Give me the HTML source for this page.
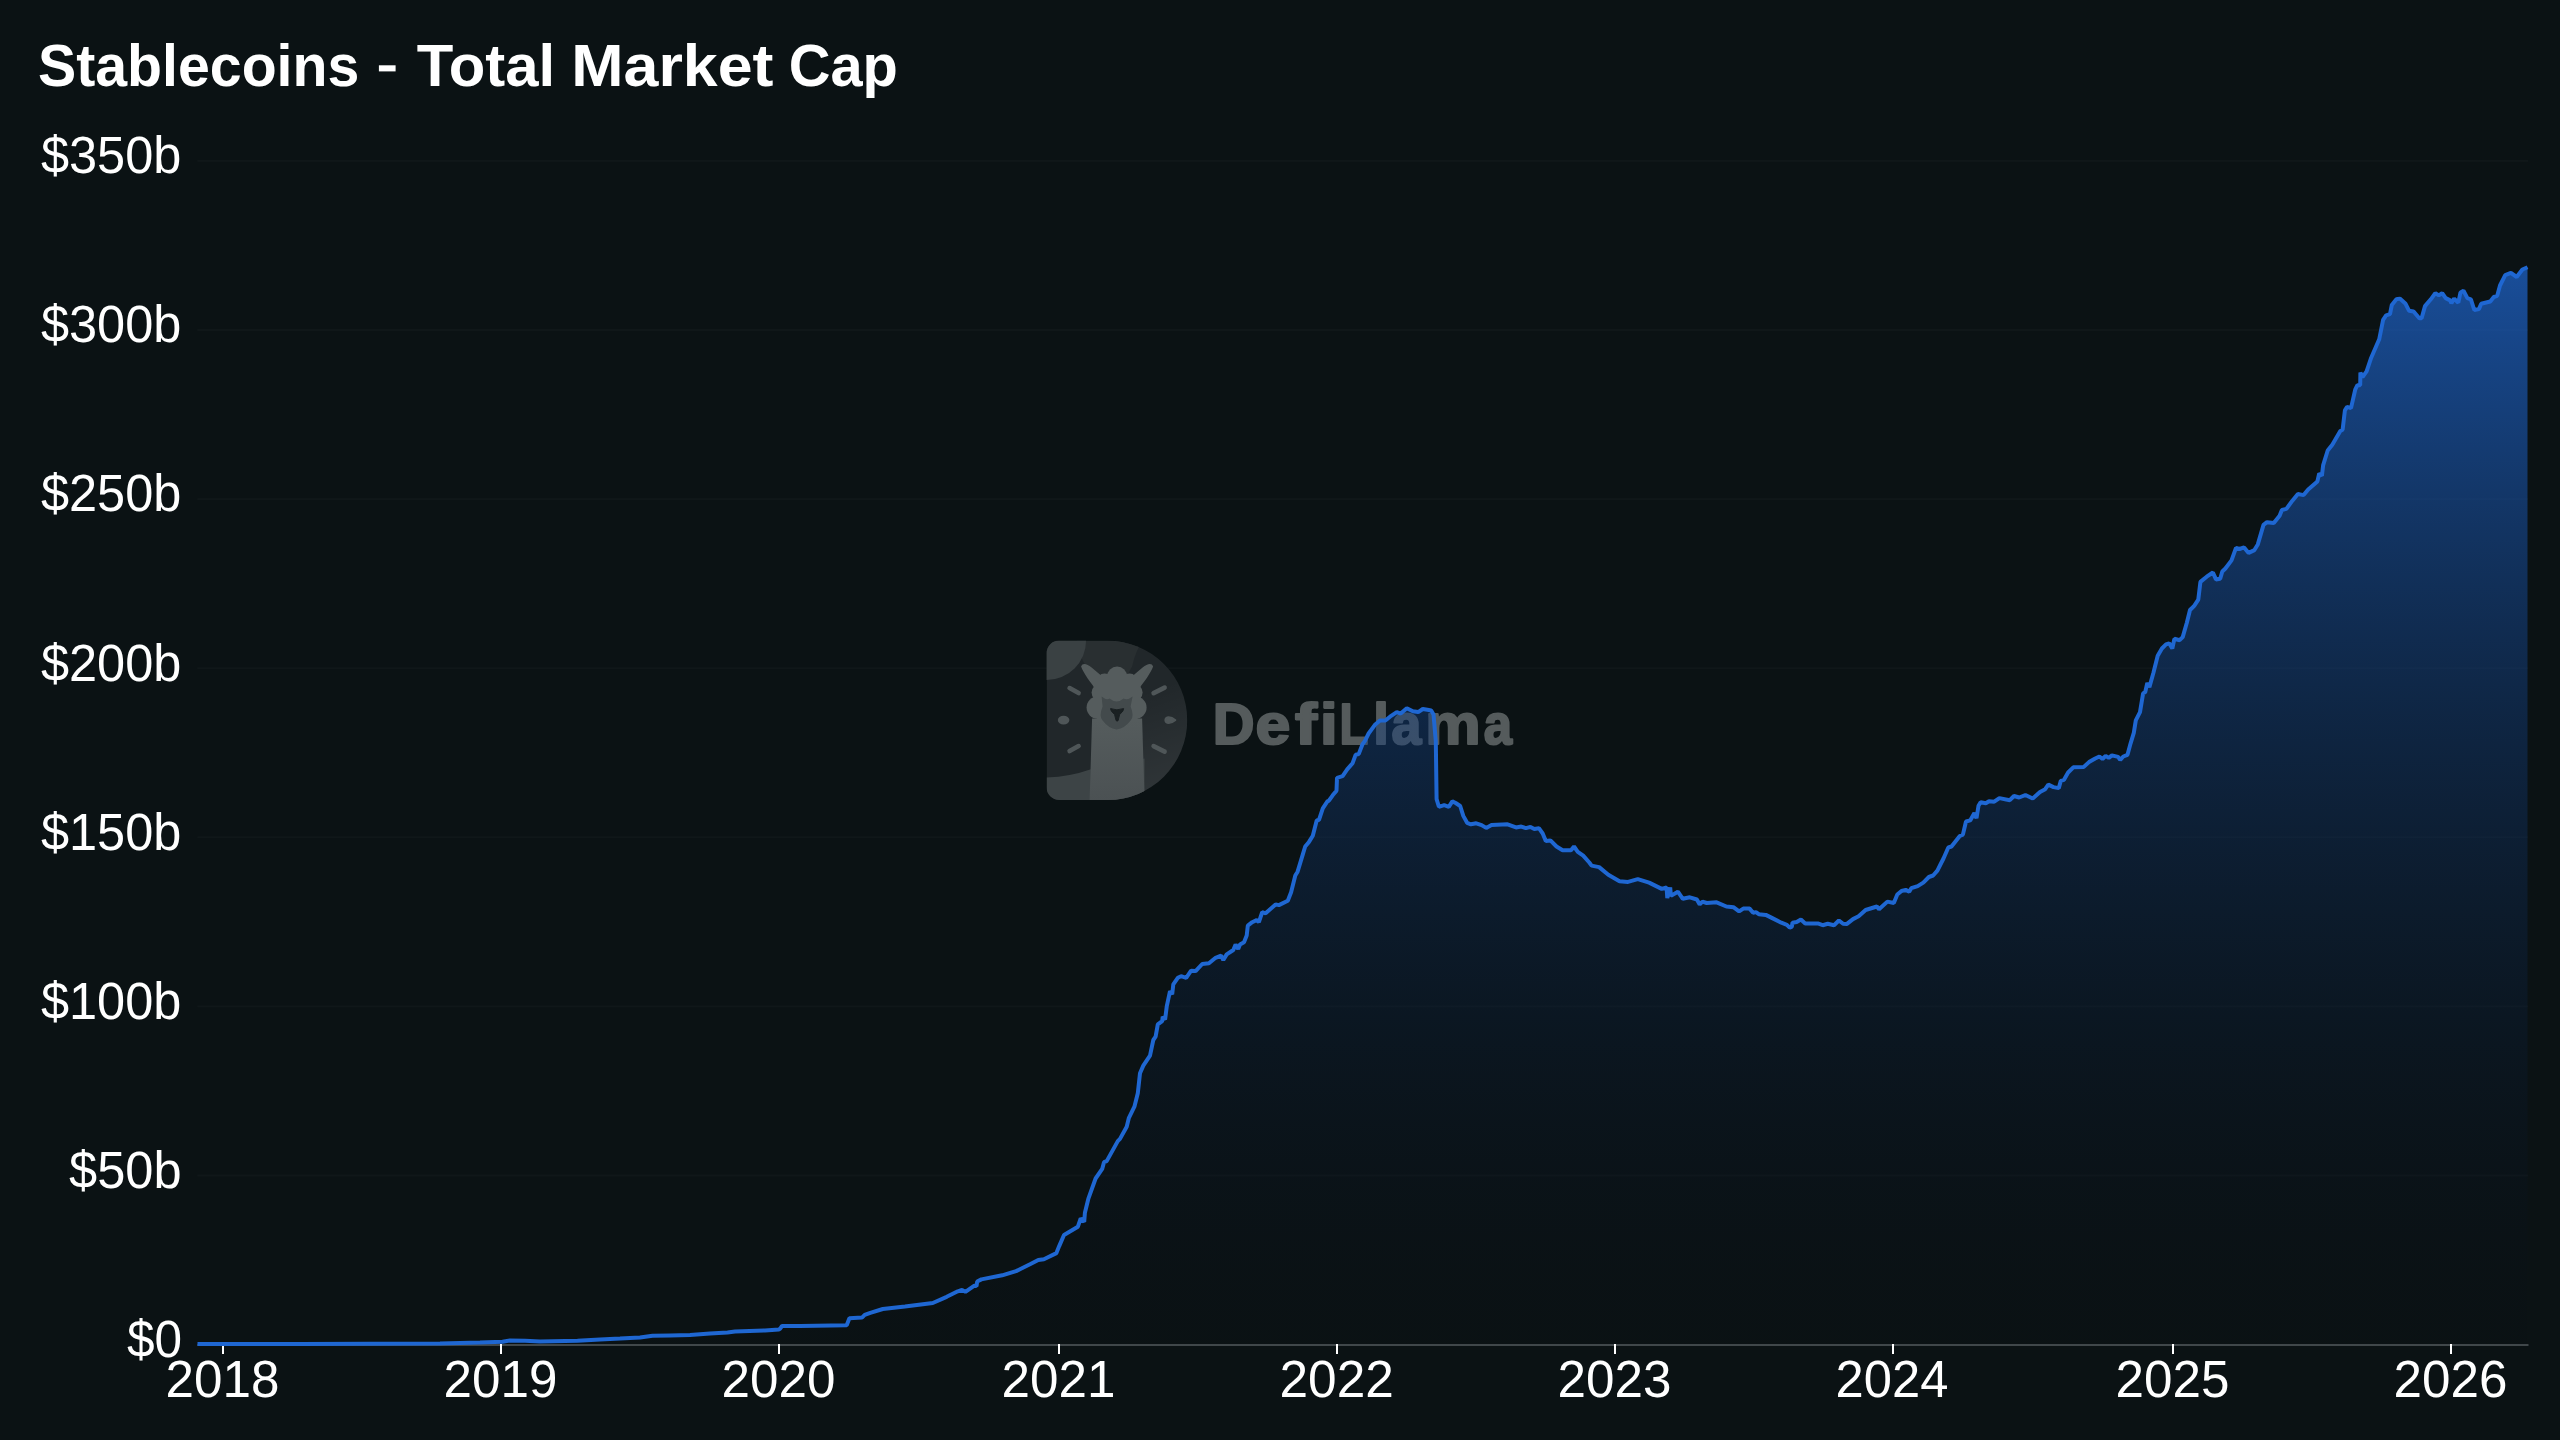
<!DOCTYPE html>
<html><head><meta charset="utf-8"><title>Stablecoins - Total Market Cap</title>
<style>
html,body{margin:0;padding:0;background:#0b1214;width:2560px;height:1440px;overflow:hidden}
svg{display:block;position:absolute;left:0;top:0}
text{font-family:"Liberation Sans",sans-serif}
</style></head>
<body>
<svg width="2560" height="1440" viewBox="0 0 2560 1440">
<defs>
<linearGradient id="ag" gradientUnits="userSpaceOnUse" x1="0" y1="267" x2="0" y2="1440">
<stop offset="0" stop-color="#1f67d2" stop-opacity="1"/>
<stop offset="1" stop-color="#000000" stop-opacity="0"/>
</linearGradient>
</defs>
<rect width="2560" height="1440" fill="#0b1214"/>
<!-- grid -->
<rect x="197.3" y="1174.5" width="2331" height="2" fill="#ffffff" fill-opacity="0.022"/>
<rect x="197.3" y="1005.4" width="2331" height="2" fill="#ffffff" fill-opacity="0.022"/>
<rect x="197.3" y="836.3" width="2331" height="2" fill="#ffffff" fill-opacity="0.022"/>
<rect x="197.3" y="667.2" width="2331" height="2" fill="#ffffff" fill-opacity="0.022"/>
<rect x="197.3" y="498.1" width="2331" height="2" fill="#ffffff" fill-opacity="0.022"/>
<rect x="197.3" y="329.0" width="2331" height="2" fill="#ffffff" fill-opacity="0.022"/>
<rect x="197.3" y="159.9" width="2331" height="2" fill="#ffffff" fill-opacity="0.022"/>

<!-- watermark -->
<g id="wm">
<g transform="translate(1046.6,640.6)">
<clipPath id="dclip"><path d="M12.5,0 H61 A79.7,79.7 0 0 1 61,159.4 H12.5 A12.5,12.5 0 0 1 0,146.9 V12.5 A12.5,12.5 0 0 1 12.5,0 Z"/></clipPath>
<linearGradient id="dg" gradientUnits="userSpaceOnUse" x1="0" y1="0" x2="140" y2="160">
<stop offset="0" stop-color="#262c2e"/><stop offset="1" stop-color="#23292b"/>
</linearGradient>
<g clip-path="url(#dclip)">
<rect x="0" y="0" width="141" height="160" fill="#21272a"/>
<!-- upper lighter band -->
<path d="M30,0 H96 Q88.5,12 85.6,25.6 L75,46 L50,42 L36,20 Z" fill="#292f31"/>
<!-- top-left light circle -->
<circle cx="0" cy="0" r="39.5" fill="#3a4143"/>
<!-- right-lower lighter wedge -->
<linearGradient id="rg" gradientUnits="userSpaceOnUse" x1="100" y1="50" x2="135" y2="150"><stop offset="0" stop-color="#ffffff" stop-opacity="0"/><stop offset="1" stop-color="#ffffff" stop-opacity="0.07"/></linearGradient>
<rect x="90" y="40" width="52" height="120" fill="url(#rg)"/>
<!-- bottom-left lighter region -->
<path d="M0,137 Q24,136 43.5,129 L43.5,160 L0,160 Z" fill="#3d4446"/>
<path d="M43.5,129 L43.5,160 L98,160 L98,118 Z" fill="#3b4244"/>
<!-- clock ticks -->
<g stroke="#4f5658" stroke-width="4.6" stroke-linecap="round" fill="none">
<line x1="23" y1="47.5" x2="32" y2="52.5"/>
<line x1="118" y1="47" x2="107" y2="52.5"/>
<line x1="23" y1="110.5" x2="32" y2="105.5"/>
<line x1="118" y1="111" x2="107" y2="105.5"/>
</g>
<ellipse cx="17" cy="79.5" rx="5.8" ry="4.4" fill="#4f5658"/>
<path d="M118.5,79.5 C119,75.5 124,75.3 129,79.5 C124,83.7 119,83.7 118.5,79.5 Z" fill="#4f5658" stroke="#4f5658" stroke-width="1.5" stroke-linejoin="round"/>
<!-- llama -->
<linearGradient id="lg" gradientUnits="userSpaceOnUse" x1="0" y1="80" x2="0" y2="160"><stop offset="0" stop-color="#555c5d"/><stop offset="1" stop-color="#4b5153"/></linearGradient>
<g fill="url(#lg)">
<!-- neck -->
<path d="M45.5,78 L43,160 L98,160 L95.5,78 Z"/>
<!-- ears -->
<path d="M34.5,26 C36,22 40,23 45,27 L58,38 L50,50 C44,42 37,33 34.5,26 Z"/>
<path d="M106.5,26 C105,22 101,23 96,27 L83,38 L91,50 C97,42 104,33 106.5,26 Z"/>
<!-- head fluff -->
<circle cx="70.5" cy="36" r="10"/>
<circle cx="58" cy="41" r="8"/>
<circle cx="83" cy="41" r="8"/>
<circle cx="54" cy="52" r="9"/>
<circle cx="87" cy="52" r="9"/>
<circle cx="70.5" cy="48" r="14"/>
<circle cx="51" cy="67" r="11"/>
<circle cx="89" cy="67" r="11"/>
<rect x="50" y="45" width="41" height="40"/>
</g>
<!-- face -->
<path d="M55,56 Q60,60 63,58 Q70,64 77,58 Q81,60 86,56 L84,66 Q88,76 84,80 Q78,88 70,89 Q62,88 56,80 Q52,76 56,66 Z" fill="#434a4c"/>
<!-- nose -->
<path d="M64,68 Q70,70.5 77,68 Q77.5,70 73,74 L71.5,80 Q70.5,81 69.5,80 L68,74 Q63.5,70 64,68 Z" fill="#1a2022" stroke="#1a2022" stroke-width="1" stroke-linejoin="round"/>
</g>
</g>
<g font-size="57.5" font-weight="bold" fill="#555b5c" stroke="#555b5c" stroke-width="2.2" stroke-linejoin="round">
<text transform="translate(1212.66,744.4) scale(1.0060,1)">D</text>
<text transform="translate(1255.59,744.4) scale(1.0906,1)">e</text>
<text transform="translate(1294.94,744.4) scale(1.1529,1)">f</text>
<text transform="translate(1319.88,744.4) scale(1.1024,1)">i</text>
<text transform="translate(1339.59,744.4) scale(0.8247,1)">L</text>
<text transform="translate(1373.35,744.4) scale(0.9756,1)">l</text>
<text transform="translate(1391.52,744.4) scale(0.9334,1)">a</text>
<text transform="translate(1425.33,744.4) scale(1.0828,1)">m</text>
<text transform="translate(1483.65,744.4) scale(0.8845,1)">a</text>
</g>
</g>

<!-- area -->
<path d="M197.5,1344.0 L300.0,1344.0 L440.0,1343.5 L480.0,1342.6 L502.5,1341.8 L510.0,1340.5 L525.0,1340.8 L540.0,1341.5 L577.5,1340.8 L600.0,1339.5 L620.0,1338.6 L640.0,1337.5 L652.5,1335.8 L670.0,1335.4 L690.0,1335.0 L710.0,1333.6 L727.5,1332.5 L735.0,1331.6 L765.0,1330.5 L778.8,1329.5 L780.0,1328.8 L782.0,1326.0 L800.0,1326.0 L846.7,1325.3 L849.4,1318.3 L862.0,1317.6 L864.7,1314.9 L870.3,1312.8 L882.8,1309.0 L905.0,1306.5 L932.8,1303.0 L946.7,1296.8 L957.8,1291.3 L962.0,1289.9 L965.4,1291.9 L974.4,1285.7 L976.5,1286.1 L977.2,1281.5 L981.4,1279.4 L1002.2,1275.3 L1016.1,1271.1 L1030.0,1264.2 L1038.3,1260.0 L1043.9,1259.3 L1056.4,1253.1 L1059.2,1246.1 L1064.0,1235.0 L1077.9,1226.7 L1080.7,1218.3 L1084.2,1221.8 L1084.9,1212.8 L1088.3,1198.9 L1095.6,1178.5 L1102.2,1168.9 L1104.0,1162.2 L1106.7,1161.1 L1117.8,1141.1 L1120.0,1138.9 L1126.7,1126.7 L1128.9,1117.8 L1134.4,1106.7 L1137.8,1093.3 L1140.0,1073.3 L1143.3,1065.6 L1150.0,1055.6 L1153.3,1040.0 L1155.6,1036.7 L1157.8,1024.4 L1162.2,1021.1 L1162.7,1016.7 L1165.1,1019.6 L1166.7,1006.7 L1170.0,991.1 L1172.2,994.4 L1173.3,984.4 L1177.8,977.8 L1181.1,976.2 L1186.2,977.8 L1191.1,970.7 L1195.6,971.1 L1202.2,964.0 L1208.9,963.3 L1215.6,957.8 L1221.1,955.6 L1223.3,960.0 L1226.7,954.4 L1233.3,950.0 L1235.6,944.4 L1238.2,948.9 L1240.0,944.4 L1244.0,942.2 L1246.7,935.6 L1247.8,925.6 L1252.2,922.2 L1256.7,920.0 L1258.9,922.2 L1262.2,912.2 L1265.6,913.3 L1275.6,904.4 L1278.9,905.1 L1287.8,900.7 L1291.1,892.3 L1295.3,875.5 L1297.6,871.7 L1302.9,854.1 L1305.2,846.5 L1309.0,841.9 L1312.8,835.8 L1316.7,820.5 L1319.0,819.8 L1322.8,808.3 L1327.4,801.4 L1328.9,800.7 L1332.7,795.3 L1336.5,790.7 L1337.0,777.8 L1342.6,776.2 L1347.2,769.4 L1352.6,763.2 L1355.6,754.8 L1358.7,754.1 L1362.5,744.2 L1364.8,741.1 L1368.6,733.5 L1374.7,725.1 L1380.0,720.5 L1385.4,720.5 L1390.0,716.7 L1396.8,712.1 L1400.7,713.6 L1406.8,708.3 L1412.9,711.3 L1418.2,712.1 L1422.8,709.0 L1427.4,709.8 L1431.2,710.5 L1433.5,714.4 L1435.8,741.1 L1436.6,799.1 L1438.9,806.8 L1444.2,805.2 L1448.8,806.8 L1452.3,801.4 L1455.7,803.0 L1460.2,806.0 L1463.3,815.9 L1467.1,822.8 L1470.9,824.3 L1476.3,823.3 L1481.6,825.1 L1486.2,827.9 L1491.5,825.1 L1507.6,824.3 L1516.0,827.4 L1521.3,826.6 L1525.9,828.2 L1530.5,826.9 L1534.3,828.9 L1538.9,828.2 L1542.7,833.5 L1545.8,841.1 L1550.4,840.4 L1556.5,846.5 L1562.6,850.3 L1571.0,850.3 L1574.0,846.5 L1577.8,851.8 L1583.2,855.7 L1589.3,862.5 L1591.6,865.6 L1599.1,867.1 L1608.3,874.8 L1619.5,881.2 L1628.0,881.9 L1637.8,879.1 L1649.1,882.6 L1661.7,888.9 L1666.6,887.5 L1667.3,898.0 L1670.2,887.5 L1670.9,895.9 L1677.9,891.7 L1682.8,898.8 L1689.8,897.3 L1696.9,899.5 L1699.7,904.4 L1702.5,901.6 L1706.7,903.0 L1716.6,902.3 L1726.4,906.5 L1733.4,907.2 L1739.1,911.4 L1743.3,908.6 L1749.6,908.6 L1753.1,912.8 L1755.9,912.1 L1758.8,914.2 L1765.8,914.9 L1772.8,918.4 L1781.3,922.7 L1786.9,924.8 L1789.7,927.6 L1791.8,926.9 L1792.5,922.7 L1796.7,922.0 L1800.9,919.6 L1805.2,923.4 L1817.8,923.4 L1822.7,925.2 L1827.7,923.8 L1834.0,925.2 L1838.9,920.5 L1843.1,923.8 L1846.6,924.1 L1853.0,919.1 L1858.6,916.3 L1865.6,910.0 L1876.9,906.5 L1879.0,909.3 L1887.4,901.6 L1893.8,903.0 L1897.3,894.5 L1901.5,891.0 L1905.7,889.9 L1909.2,891.7 L1911.3,888.2 L1917.7,886.1 L1923.3,882.6 L1928.9,877.0 L1933.1,875.5 L1937.4,870.6 L1940.2,865.0 L1943.5,858.5 L1948.3,847.5 L1951.5,846.5 L1959.8,836.0 L1962.9,834.6 L1966.0,821.5 L1970.2,820.4 L1974.4,813.1 L1976.5,818.3 L1978.5,805.8 L1980.6,802.3 L1985.8,803.3 L1989.0,801.3 L1994.2,801.7 L1999.4,798.1 L2009.8,800.2 L2014.0,796.0 L2019.2,797.5 L2025.4,795.0 L2032.7,798.5 L2040.0,791.9 L2045.2,789.2 L2048.3,784.6 L2053.5,787.1 L2058.8,788.1 L2060.8,780.8 L2064.0,779.8 L2068.1,772.5 L2073.3,767.3 L2083.8,766.9 L2089.0,762.1 L2095.2,758.5 L2099.4,756.5 L2102.5,759.0 L2105.6,755.8 L2108.8,757.9 L2111.9,755.4 L2118.1,756.9 L2120.2,760.0 L2123.3,756.5 L2127.5,754.8 L2130.6,743.3 L2133.8,732.9 L2135.8,720.4 L2140.0,712.1 L2143.1,693.3 L2145.2,692.3 L2147.3,682.9 L2149.4,687.1 L2153.5,672.5 L2157.7,655.8 L2161.9,648.5 L2166.0,644.4 L2169.2,643.3 L2172.3,648.5 L2174.4,638.8 L2179.6,640.2 L2182.7,637.1 L2186.9,622.5 L2190.0,610.0 L2194.2,605.8 L2198.3,599.6 L2200.4,581.9 L2206.7,576.7 L2212.9,572.5 L2216.0,579.4 L2220.2,578.8 L2222.3,571.5 L2225.4,568.5 L2231.5,560.4 L2236.0,547.8 L2239.5,549.0 L2244.1,547.4 L2248.6,552.9 L2254.4,550.1 L2257.8,544.4 L2263.5,524.9 L2267.0,522.2 L2273.8,523.1 L2279.6,515.8 L2281.9,510.0 L2286.4,508.9 L2292.2,500.9 L2297.9,494.0 L2303.6,495.1 L2308.2,489.4 L2317.4,481.4 L2319.2,473.4 L2321.9,475.7 L2323.1,465.4 L2327.7,450.5 L2332.3,444.7 L2340.3,431.0 L2342.6,429.8 L2344.9,410.4 L2347.1,406.9 L2351.0,408.1 L2355.2,389.7 L2357.4,385.2 L2360.2,385.2 L2360.4,372.6 L2362.5,377.1 L2366.6,371.4 L2371.2,357.7 L2379.2,339.3 L2383.1,319.9 L2386.1,315.3 L2390.0,314.1 L2391.8,305.0 L2396.4,299.3 L2399.8,298.6 L2405.6,303.8 L2409.0,310.7 L2413.6,311.4 L2419.3,318.3 L2421.6,318.3 L2425.0,306.1 L2430.8,299.3 L2435.3,293.1 L2438.8,295.4 L2442.2,293.1 L2445.7,298.1 L2450.2,300.4 L2451.4,303.2 L2454.1,298.6 L2458.3,302.7 L2460.5,292.4 L2463.5,290.8 L2467.4,298.1 L2470.9,299.3 L2474.3,310.0 L2478.9,309.1 L2481.2,303.8 L2490.3,301.5 L2493.8,297.0 L2497.2,295.8 L2500.0,285.5 L2505.2,275.2 L2510.9,272.9 L2516.7,277.0 L2522.4,269.5 L2527.5,267.2 L2527.5,1344.6 L197.5,1344.6 Z" fill="url(#ag)" fill-opacity="0.7"/>
<!-- x axis -->
<rect x="197.3" y="1344" width="2331.2" height="2" fill="#40474a"/>
<rect x="222" y="1344" width="2" height="10" fill="#ffffff"/>
<rect x="500" y="1344" width="2" height="10" fill="#ffffff"/>
<rect x="778" y="1344" width="2" height="10" fill="#ffffff"/>
<rect x="1058" y="1344" width="2" height="10" fill="#ffffff"/>
<rect x="1336" y="1344" width="2" height="10" fill="#ffffff"/>
<rect x="1614" y="1344" width="2" height="10" fill="#ffffff"/>
<rect x="1892" y="1344" width="2" height="10" fill="#ffffff"/>
<rect x="2172" y="1344" width="2" height="10" fill="#ffffff"/>
<rect x="2450" y="1344" width="2" height="10" fill="#ffffff"/>

<path d="M197.5,1344.0 L300.0,1344.0 L440.0,1343.5 L480.0,1342.6 L502.5,1341.8 L510.0,1340.5 L525.0,1340.8 L540.0,1341.5 L577.5,1340.8 L600.0,1339.5 L620.0,1338.6 L640.0,1337.5 L652.5,1335.8 L670.0,1335.4 L690.0,1335.0 L710.0,1333.6 L727.5,1332.5 L735.0,1331.6 L765.0,1330.5 L778.8,1329.5 L780.0,1328.8 L782.0,1326.0 L800.0,1326.0 L846.7,1325.3 L849.4,1318.3 L862.0,1317.6 L864.7,1314.9 L870.3,1312.8 L882.8,1309.0 L905.0,1306.5 L932.8,1303.0 L946.7,1296.8 L957.8,1291.3 L962.0,1289.9 L965.4,1291.9 L974.4,1285.7 L976.5,1286.1 L977.2,1281.5 L981.4,1279.4 L1002.2,1275.3 L1016.1,1271.1 L1030.0,1264.2 L1038.3,1260.0 L1043.9,1259.3 L1056.4,1253.1 L1059.2,1246.1 L1064.0,1235.0 L1077.9,1226.7 L1080.7,1218.3 L1084.2,1221.8 L1084.9,1212.8 L1088.3,1198.9 L1095.6,1178.5 L1102.2,1168.9 L1104.0,1162.2 L1106.7,1161.1 L1117.8,1141.1 L1120.0,1138.9 L1126.7,1126.7 L1128.9,1117.8 L1134.4,1106.7 L1137.8,1093.3 L1140.0,1073.3 L1143.3,1065.6 L1150.0,1055.6 L1153.3,1040.0 L1155.6,1036.7 L1157.8,1024.4 L1162.2,1021.1 L1162.7,1016.7 L1165.1,1019.6 L1166.7,1006.7 L1170.0,991.1 L1172.2,994.4 L1173.3,984.4 L1177.8,977.8 L1181.1,976.2 L1186.2,977.8 L1191.1,970.7 L1195.6,971.1 L1202.2,964.0 L1208.9,963.3 L1215.6,957.8 L1221.1,955.6 L1223.3,960.0 L1226.7,954.4 L1233.3,950.0 L1235.6,944.4 L1238.2,948.9 L1240.0,944.4 L1244.0,942.2 L1246.7,935.6 L1247.8,925.6 L1252.2,922.2 L1256.7,920.0 L1258.9,922.2 L1262.2,912.2 L1265.6,913.3 L1275.6,904.4 L1278.9,905.1 L1287.8,900.7 L1291.1,892.3 L1295.3,875.5 L1297.6,871.7 L1302.9,854.1 L1305.2,846.5 L1309.0,841.9 L1312.8,835.8 L1316.7,820.5 L1319.0,819.8 L1322.8,808.3 L1327.4,801.4 L1328.9,800.7 L1332.7,795.3 L1336.5,790.7 L1337.0,777.8 L1342.6,776.2 L1347.2,769.4 L1352.6,763.2 L1355.6,754.8 L1358.7,754.1 L1362.5,744.2 L1364.8,741.1 L1368.6,733.5 L1374.7,725.1 L1380.0,720.5 L1385.4,720.5 L1390.0,716.7 L1396.8,712.1 L1400.7,713.6 L1406.8,708.3 L1412.9,711.3 L1418.2,712.1 L1422.8,709.0 L1427.4,709.8 L1431.2,710.5 L1433.5,714.4 L1435.8,741.1 L1436.6,799.1 L1438.9,806.8 L1444.2,805.2 L1448.8,806.8 L1452.3,801.4 L1455.7,803.0 L1460.2,806.0 L1463.3,815.9 L1467.1,822.8 L1470.9,824.3 L1476.3,823.3 L1481.6,825.1 L1486.2,827.9 L1491.5,825.1 L1507.6,824.3 L1516.0,827.4 L1521.3,826.6 L1525.9,828.2 L1530.5,826.9 L1534.3,828.9 L1538.9,828.2 L1542.7,833.5 L1545.8,841.1 L1550.4,840.4 L1556.5,846.5 L1562.6,850.3 L1571.0,850.3 L1574.0,846.5 L1577.8,851.8 L1583.2,855.7 L1589.3,862.5 L1591.6,865.6 L1599.1,867.1 L1608.3,874.8 L1619.5,881.2 L1628.0,881.9 L1637.8,879.1 L1649.1,882.6 L1661.7,888.9 L1666.6,887.5 L1667.3,898.0 L1670.2,887.5 L1670.9,895.9 L1677.9,891.7 L1682.8,898.8 L1689.8,897.3 L1696.9,899.5 L1699.7,904.4 L1702.5,901.6 L1706.7,903.0 L1716.6,902.3 L1726.4,906.5 L1733.4,907.2 L1739.1,911.4 L1743.3,908.6 L1749.6,908.6 L1753.1,912.8 L1755.9,912.1 L1758.8,914.2 L1765.8,914.9 L1772.8,918.4 L1781.3,922.7 L1786.9,924.8 L1789.7,927.6 L1791.8,926.9 L1792.5,922.7 L1796.7,922.0 L1800.9,919.6 L1805.2,923.4 L1817.8,923.4 L1822.7,925.2 L1827.7,923.8 L1834.0,925.2 L1838.9,920.5 L1843.1,923.8 L1846.6,924.1 L1853.0,919.1 L1858.6,916.3 L1865.6,910.0 L1876.9,906.5 L1879.0,909.3 L1887.4,901.6 L1893.8,903.0 L1897.3,894.5 L1901.5,891.0 L1905.7,889.9 L1909.2,891.7 L1911.3,888.2 L1917.7,886.1 L1923.3,882.6 L1928.9,877.0 L1933.1,875.5 L1937.4,870.6 L1940.2,865.0 L1943.5,858.5 L1948.3,847.5 L1951.5,846.5 L1959.8,836.0 L1962.9,834.6 L1966.0,821.5 L1970.2,820.4 L1974.4,813.1 L1976.5,818.3 L1978.5,805.8 L1980.6,802.3 L1985.8,803.3 L1989.0,801.3 L1994.2,801.7 L1999.4,798.1 L2009.8,800.2 L2014.0,796.0 L2019.2,797.5 L2025.4,795.0 L2032.7,798.5 L2040.0,791.9 L2045.2,789.2 L2048.3,784.6 L2053.5,787.1 L2058.8,788.1 L2060.8,780.8 L2064.0,779.8 L2068.1,772.5 L2073.3,767.3 L2083.8,766.9 L2089.0,762.1 L2095.2,758.5 L2099.4,756.5 L2102.5,759.0 L2105.6,755.8 L2108.8,757.9 L2111.9,755.4 L2118.1,756.9 L2120.2,760.0 L2123.3,756.5 L2127.5,754.8 L2130.6,743.3 L2133.8,732.9 L2135.8,720.4 L2140.0,712.1 L2143.1,693.3 L2145.2,692.3 L2147.3,682.9 L2149.4,687.1 L2153.5,672.5 L2157.7,655.8 L2161.9,648.5 L2166.0,644.4 L2169.2,643.3 L2172.3,648.5 L2174.4,638.8 L2179.6,640.2 L2182.7,637.1 L2186.9,622.5 L2190.0,610.0 L2194.2,605.8 L2198.3,599.6 L2200.4,581.9 L2206.7,576.7 L2212.9,572.5 L2216.0,579.4 L2220.2,578.8 L2222.3,571.5 L2225.4,568.5 L2231.5,560.4 L2236.0,547.8 L2239.5,549.0 L2244.1,547.4 L2248.6,552.9 L2254.4,550.1 L2257.8,544.4 L2263.5,524.9 L2267.0,522.2 L2273.8,523.1 L2279.6,515.8 L2281.9,510.0 L2286.4,508.9 L2292.2,500.9 L2297.9,494.0 L2303.6,495.1 L2308.2,489.4 L2317.4,481.4 L2319.2,473.4 L2321.9,475.7 L2323.1,465.4 L2327.7,450.5 L2332.3,444.7 L2340.3,431.0 L2342.6,429.8 L2344.9,410.4 L2347.1,406.9 L2351.0,408.1 L2355.2,389.7 L2357.4,385.2 L2360.2,385.2 L2360.4,372.6 L2362.5,377.1 L2366.6,371.4 L2371.2,357.7 L2379.2,339.3 L2383.1,319.9 L2386.1,315.3 L2390.0,314.1 L2391.8,305.0 L2396.4,299.3 L2399.8,298.6 L2405.6,303.8 L2409.0,310.7 L2413.6,311.4 L2419.3,318.3 L2421.6,318.3 L2425.0,306.1 L2430.8,299.3 L2435.3,293.1 L2438.8,295.4 L2442.2,293.1 L2445.7,298.1 L2450.2,300.4 L2451.4,303.2 L2454.1,298.6 L2458.3,302.7 L2460.5,292.4 L2463.5,290.8 L2467.4,298.1 L2470.9,299.3 L2474.3,310.0 L2478.9,309.1 L2481.2,303.8 L2490.3,301.5 L2493.8,297.0 L2497.2,295.8 L2500.0,285.5 L2505.2,275.2 L2510.9,272.9 L2516.7,277.0 L2522.4,269.5 L2527.5,267.2" fill="none" stroke="#1f67d2" stroke-width="4" stroke-linejoin="bevel" stroke-linecap="butt"/>
<!-- labels -->
<text transform="translate(127.00,1356.90) scale(0.9711,1.0250)" font-size="51" fill="#fff">$0</text>
<text transform="translate(69.09,1187.80) scale(0.9912,1.0250)" font-size="51" fill="#fff">$50b</text>
<text transform="translate(40.89,1018.70) scale(0.9904,1.0250)" font-size="51" fill="#fff">$100b</text>
<text transform="translate(40.89,849.60) scale(0.9904,1.0250)" font-size="51" fill="#fff">$150b</text>
<text transform="translate(40.89,680.50) scale(0.9904,1.0250)" font-size="51" fill="#fff">$200b</text>
<text transform="translate(40.89,511.40) scale(0.9904,1.0250)" font-size="51" fill="#fff">$250b</text>
<text transform="translate(40.89,342.30) scale(0.9904,1.0250)" font-size="51" fill="#fff">$300b</text>
<text transform="translate(40.89,173.20) scale(0.9904,1.0250)" font-size="51" fill="#fff">$350b</text>

<text transform="translate(165.54,1397.00) scale(1.0034,1.0270)" font-size="51" fill="#fff">2018</text>
<text transform="translate(443.54,1397.00) scale(1.0034,1.0270)" font-size="51" fill="#fff">2019</text>
<text transform="translate(721.54,1397.00) scale(1.0034,1.0270)" font-size="51" fill="#fff">2020</text>
<text transform="translate(1001.54,1397.00) scale(1.0034,1.0270)" font-size="51" fill="#fff">2021</text>
<text transform="translate(1279.53,1397.00) scale(1.0081,1.0270)" font-size="51" fill="#fff">2022</text>
<text transform="translate(1557.54,1397.00) scale(1.0034,1.0270)" font-size="51" fill="#fff">2023</text>
<text transform="translate(1835.57,1397.00) scale(0.9941,1.0270)" font-size="51" fill="#fff">2024</text>
<text transform="translate(2115.54,1397.00) scale(1.0034,1.0270)" font-size="51" fill="#fff">2025</text>
<text transform="translate(2393.54,1397.00) scale(1.0034,1.0270)" font-size="51" fill="#fff">2026</text>

<text transform="translate(37.98,85.50) scale(0.9546,0.9900)" font-size="60" font-weight="bold" fill="#fff">Stablecoins</text>
<rect x="378.9" y="65.3" width="16.7" height="6.1" fill="#fff"/>
<text transform="translate(416.70,85.50) scale(0.9970,0.9900)" font-size="60" font-weight="bold" fill="#fff">Total</text>
<text transform="translate(571.31,85.50) scale(1.0456,0.9900)" font-size="60" font-weight="bold" fill="#fff">Market</text>
<text transform="translate(788.69,85.50) scale(0.9632,0.9900)" font-size="60" font-weight="bold" fill="#fff">Cap</text>

</svg>
</body></html>
